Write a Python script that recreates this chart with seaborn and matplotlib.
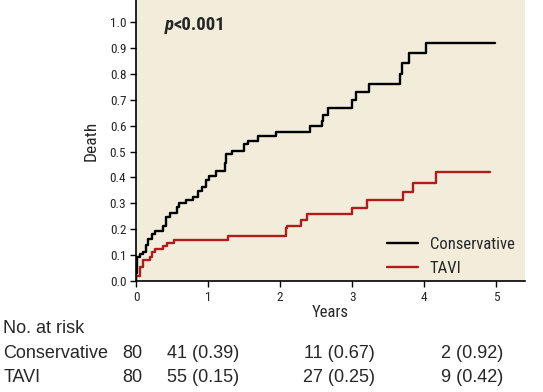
import pandas as pd
import matplotlib.pyplot as plt
import seaborn as sns

# Kaplan-Meier style cumulative death
cons_t = [0, 0.005, 0.01, 0.05, 0.09, 0.14, 0.17, 0.22, 0.26, 0.37, 0.42, 0.47, 0.57, 0.60,
          0.70, 0.79, 0.86, 0.92, 0.975, 1.01, 1.11, 1.23, 1.25, 1.33, 1.50, 1.55, 1.69,
          1.94, 2.42, 2.58, 2.60, 2.66, 3.00, 3.06, 3.23, 3.67, 3.69, 3.79, 4.02, 4.98]
cons_y = [0, 0.03, 0.094, 0.104, 0.113, 0.139, 0.161, 0.181, 0.193, 0.214, 0.248, 0.264,
          0.287, 0.30, 0.313, 0.325, 0.347, 0.364, 0.39, 0.407, 0.425, 0.454, 0.489, 0.502,
          0.528, 0.54, 0.561, 0.576, 0.598, 0.619, 0.641, 0.667, 0.699, 0.731, 0.761, 0.80,
          0.84, 0.879, 0.92, 0.92]
tavi_t = [0, 0.005, 0.05, 0.10, 0.19, 0.22, 0.26, 0.37, 0.43, 0.53, 1.27, 2.08, 2.10, 2.29,
          2.38, 3.00, 3.21, 3.71, 3.84, 4.16, 4.92]
tavi_y = [0, 0.02, 0.055, 0.081, 0.094, 0.111, 0.122, 0.135, 0.148, 0.158, 0.174, 0.203,
          0.214, 0.236, 0.257, 0.283, 0.313, 0.342, 0.377, 0.422, 0.422]

risk_times = [0, 1, 3, 5]
cons_risk = ['80', '41 (0.39)', '11 (0.67)', '2 (0.92)']
tavi_risk = ['80', '55 (0.15)', '27 (0.25)', '9 (0.42)']

df = pd.concat([
    pd.DataFrame({'Years': cons_t, 'Death': cons_y, 'group': 'Conservative'}),
    pd.DataFrame({'Years': tavi_t, 'Death': tavi_y, 'group': 'TAVI'}),
])

sns.set_style('ticks')
plt.rcParams['font.family'] = ['Liberation Sans Narrow', 'Roboto Condensed', 'DejaVu Sans']

fig = plt.figure(figsize=(5.43, 3.92), dpi=100)
ax = fig.add_axes([0.2505, 0.283, 0.7165, 0.717])
ax.set_facecolor('#f1edda')

sns.lineplot(data=df, x='Years', y='Death', hue='group', estimator=None, sort=False,
             palette={'Conservative': 'black', 'TAVI': '#b01c1c'},
             drawstyle='steps-post', linewidth=1.7, ax=ax)

ax.set_xlim(0, 5.4)
ax.set_ylim(0, 1.085)
ax.set_xticks(range(6))
ax.set_yticks([i / 10 for i in range(11)])
ax.set_yticklabels([f'{i / 10:.1f}' for i in range(11)])
ax.tick_params(labelsize=9.5, length=4, width=1, color='black', pad=3)
for s in ['left', 'bottom']:
    ax.spines[s].set_linewidth(1.2)
    ax.spines[s].set_color('black')
sns.despine(ax=ax)
ax.set_xlabel('Years', fontsize=12, labelpad=1)
ax.set_ylabel('Death', fontsize=12.5, labelpad=8)

leg = ax.legend(loc='lower right', bbox_to_anchor=(1.012, -0.035), frameon=False, fontsize=12,
                handlelength=1.9, handletextpad=0.7, labelspacing=0.55)
for line in leg.get_lines():
    line.set_linewidth(1.7)

t = ax.text(0.4, 0.99, 'p', fontsize=13.5, style='italic', fontweight='bold',
            va='center', ha='left')
ax.annotate('<0.001', xy=(1, 0), xycoords=t, va='bottom', ha='left',
            fontsize=13.5, fontweight='bold')

# number at risk table
tab_font = ['Liberation Sans', 'DejaVu Sans']
fig.text(0.006, 0.163, 'No. at risk', fontsize=13, va='center', family=tab_font)
fig.text(0.006, 0.097, 'Conservative', fontsize=13, va='center', family=tab_font)
fig.text(0.006, 0.036, 'TAVI', fontsize=13, va='center', family=tab_font)
offsets = [-0.05, -0.07, -0.18, -0.33]
trans = ax.get_xaxis_transform()
for x, off, c, tv in zip(risk_times, offsets, cons_risk, tavi_risk):
    for lab, fy in [(c, 0.097), (tv, 0.036)]:
        ax.annotate(lab, xy=(x + off, 0), xycoords=trans, xytext=(x + off, fy),
                    textcoords=('data', 'figure fraction'), ha='center', va='center',
                    fontsize=13, family=tab_font, annotation_clip=False)

fig.savefig('out.png', dpi=100)
